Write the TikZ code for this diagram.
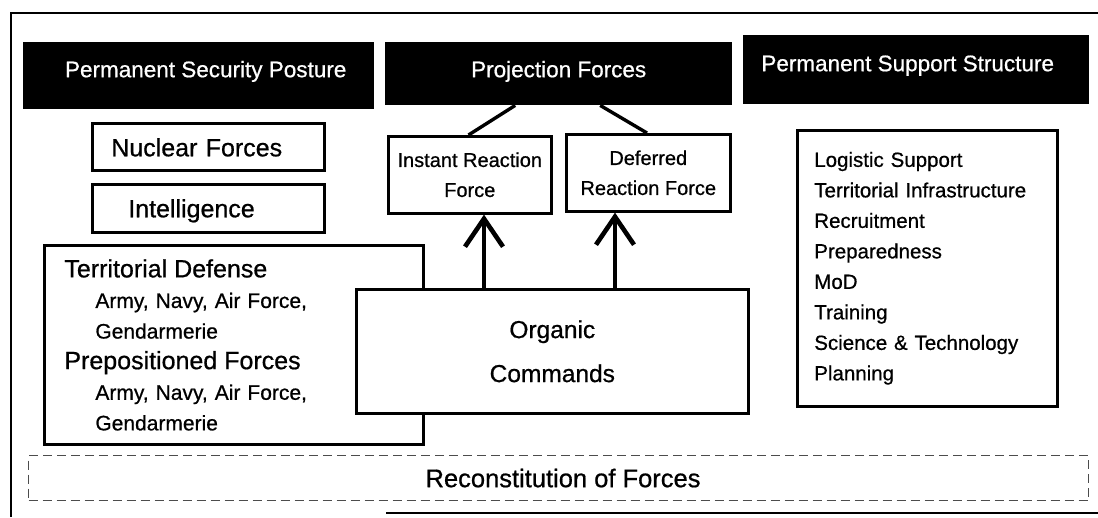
\documentclass[tikz,border=0pt]{standalone}
\usepackage{fontspec}
\setmainfont[FakeBold=0.7]{Liberation Sans}
\usetikzlibrary{arrows.meta}
\newcommand\hdrfont{\fontsize{22.5}{27}\selectfont}
\newcommand\bigfnt{\fontsize{25}{30.6}\selectfont}
\newcommand\subfnt{\fontsize{21}{30.6}\selectfont}
\begin{document}
\begin{tikzpicture}[x=1pt,y=-1pt,
  hdr/.style={fill=black, text=white, inner sep=0pt, anchor=north west, font=\hdrfont},
  box/.style={draw, line width=2.6pt, fill=white, inner sep=0pt, anchor=north west},
  framel/.style={line width=2.5pt},
  link/.style={line width=3.4pt},
  uparrow/.style={line width=4.6pt, -{Straight Barb[length=28pt,width=38pt]}},
  recbox/.style={draw=black!70, line width=1.1pt, dash pattern=on 9pt off 5pt, inner sep=0pt, anchor=north west}
]
\useasboundingbox (0,0) rectangle (1098,517);
% outer frame
\draw[framel] (11,517) -- (11,13) -- (1098,13);
\draw[framel] (386,513) -- (1098,513);
% headers
\node[hdr, minimum width=351pt, text height=35pt, text depth=32pt] (psp) at (23,42) {\hspace*{14pt}Permanent Security Posture};
\node[hdr, minimum width=347pt, text height=35pt, text depth=28pt] (proj) at (385,42) {Projection Forces};
\node[hdr, minimum width=346pt, text height=36pt, text depth=33pt] (pss) at (743,35) {Permanent Support Structure\hspace*{17pt}};
% links from projection forces
\draw[link] ([xshift=-43.5pt]proj.south) -- (468.5,135) coordinate (irftop);
\draw[link] ([xshift=41.5pt]proj.south) -- (647,133) coordinate (dfrtop);
% left column
\node[box, text width=194pt, inner xsep=19pt, align=left, text height=33pt, text depth=14pt, font=\bigfnt] (nuc) at (91,122) {Nuclear Forces};
\node[box, text width=160pt, inner xsep=36pt, align=left, text height=33pt, text depth=15pt, font=\bigfnt] (intel) at (91,183) {Intelligence};
% reaction forces
\node[box, minimum width=163pt, minimum height=77pt, align=center, font=\fontsize{20}{30}\selectfont] (irf) at (387,135) {Instant Reaction\\Force};
\node[box, minimum width=164pt, minimum height=77pt, align=center, font=\fontsize{20}{30}\selectfont] (dfr) at (565,133) {Deferred\\Reaction Force};
% territorial
\node[box, line width=2.8pt, text width=339pt, inner xsep=20pt, minimum height=199pt, align=left, font=\subfnt] (terr) at (43,244)
 {{\bigfnt Territorial Defense}\\
  \hspace*{31pt}Army, Navy, Air Force,\\
  \hspace*{31pt}Gendarmerie\\
  {\bigfnt Prepositioned Forces}\\
  \hspace*{31pt}Army, Navy, Air Force,\\
  \hspace*{31pt}Gendarmerie};
% organic commands
\node[box, minimum width=392pt, minimum height=124pt, align=center, font=\fontsize{24.5}{44}\selectfont] (org) at (355,288) {Organic\\Commands};
% arrows
\coordinate (sa) at (484,0);
\coordinate (sb) at (615,0);
\draw[uparrow] (org.north -| sa) -- (irf.south -| sa);
\draw[uparrow] (org.north -| sb) -- (dfr.south -| sb);
% support list
\node[box, text width=226pt, inner xsep=17pt, minimum height=276pt, align=left, font=\fontsize{20.5}{30.5}\selectfont] (sup) at (796,129)
 {Logistic Support\\
  Territorial Infrastructure\\
  Recruitment\\
  Preparedness\\
  MoD\\
  Training\\
  Science \& Technology\\
  Planning};
% reconstitution
\node[recbox, minimum width=1060pt, minimum height=45pt, font=\fontsize{25.5}{30}\selectfont] (rec) at (28,455) {\hspace*{9pt}Reconstitution of Forces};
\end{tikzpicture}
\end{document}
